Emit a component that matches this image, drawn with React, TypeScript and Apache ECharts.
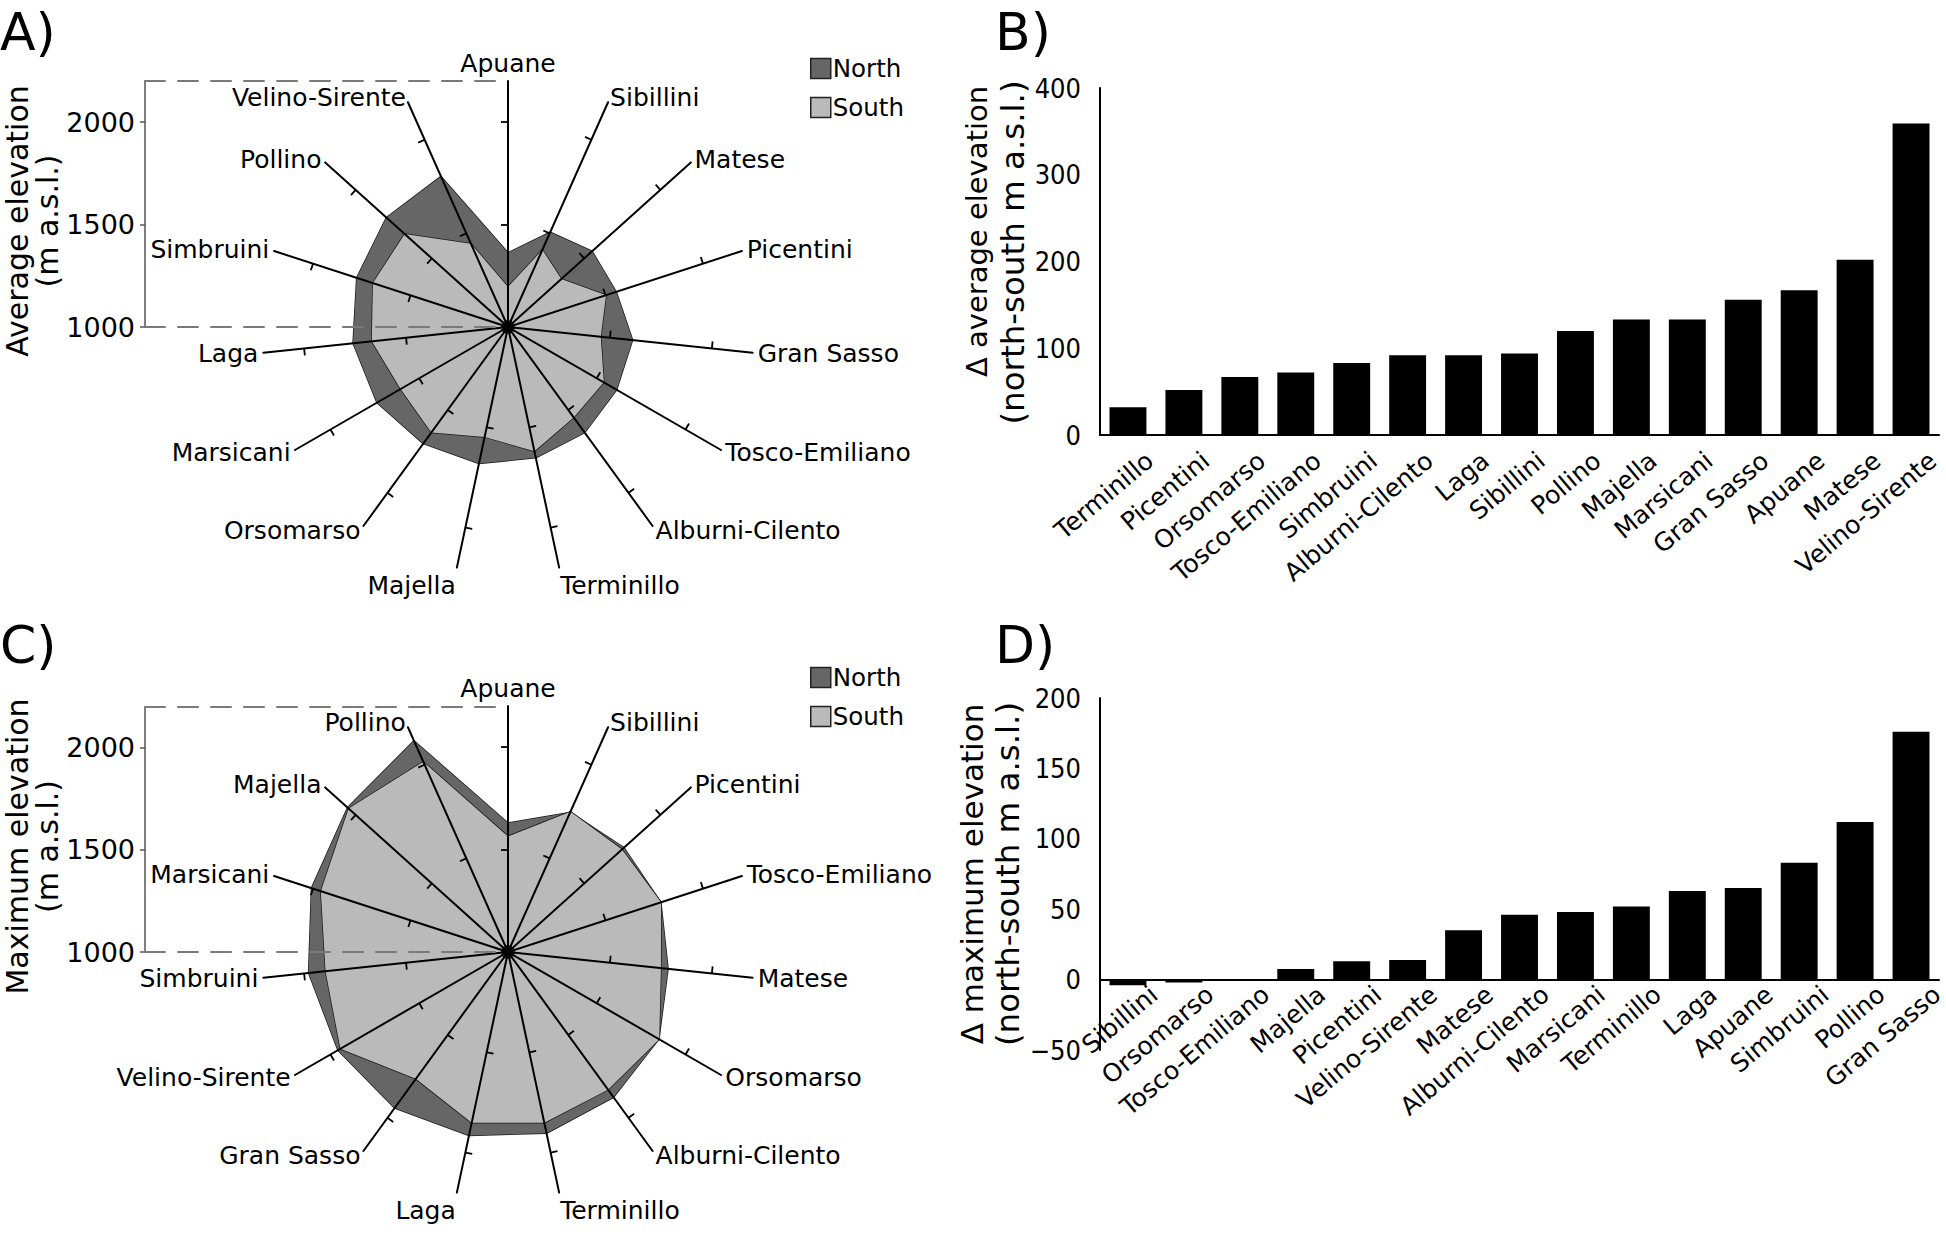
import React, { useEffect, useRef } from 'react';
import * as echarts from 'echarts';

// ---------- Data ----------
// Panel A radar (clockwise from top)
const avgNames = ['Apuane', 'Sibillini', 'Matese', 'Picentini', 'Gran Sasso', 'Tosco-Emiliano', 'Alburni-Cilento', 'Terminillo', 'Majella', 'Orsomarso', 'Marsicani', 'Laga', 'Simbruini', 'Pollino', 'Velino-Sirente'];
const avgNorth = [1362, 1506, 1552, 1555, 1611, 1612, 1637, 1652, 1681, 1703, 1738, 1760, 1776, 1798, 1804];
const avgSouth = [1195, 1412, 1350, 1503, 1455, 1540, 1545, 1620, 1548, 1636, 1605, 1668, 1693, 1678, 1445];

// Panel C radar (clockwise from top)
const maxNames = ['Apuane', 'Sibillini', 'Picentini', 'Tosco-Emiliano', 'Matese', 'Orsomarso', 'Alburni-Cilento', 'Terminillo', 'Laga', 'Gran Sasso', 'Velino-Sirente', 'Simbruini', 'Marsicani', 'Majella', 'Pollino'];
const maxNorth = [1629, 1745, 1761, 1784, 1785, 1850, 1876, 1904, 1915, 1941, 1958, 1978, 2008, 2053, 2128];
const maxSouth = [1564, 1749, 1748, 1785, 1750, 1852, 1830, 1852, 1852, 1765, 1944, 1895, 1960, 2046, 2016];

const radarTicks = [1000, 1500, 2000];
const radarMin = 1000;
const radarMax = 2200;

// Panel B bars
const diffAvgNames = ['Terminillo', 'Picentini', 'Orsomarso', 'Tosco-Emiliano', 'Simbruini', 'Alburni-Cilento', 'Laga', 'Sibillini', 'Pollino', 'Majella', 'Marsicani', 'Gran Sasso', 'Apuane', 'Matese', 'Velino-Sirente'];
const diffAvg = [32, 52, 67, 72, 83, 92, 92, 94, 120, 133, 133, 156, 167, 202, 359];

// Panel D bars
const diffMaxNames = ['Sibillini', 'Orsomarso', 'Tosco-Emiliano', 'Majella', 'Picentini', 'Velino-Sirente', 'Matese', 'Alburni-Cilento', 'Marsicani', 'Terminillo', 'Laga', 'Apuane', 'Simbruini', 'Pollino', 'Gran Sasso'];
const diffMax = [-4, -2, -1, 7.5, 13, 14, 35, 46, 48, 52, 63, 65, 83, 112, 176];

const legendNames = ['North', 'South'];

// ---------- Styling ----------
const FONT = 'DejaVu Sans';
const NARROW = "'Liberation Sans Narrow', 'DejaVu Sans Condensed', 'Liberation Sans', sans-serif";
const DARK = '#666666';
const LIGHT = '#bababa';

// ECharts radar runs counter-clockwise: keep first, reverse the rest
const ccw = <T,>(a: T[]): T[] => [a[0], ...a.slice(1).reverse()];

function mainRadar(center: number[], names: string[]) {
  // the two spokes pointing (almost) straight down carry their name lower
  const lowNames = [names[7], names[8]];
  return {
    center,
    radius: 246,
    startAngle: 90,
    shape: 'polygon',
    splitNumber: 1,
    z: 3,
    silent: true,
    indicator: ccw(names).map((n) => ({ name: n, min: radarMin, max: radarMax })),
    axisNameGap: 5,
    axisName: {
      color: '#000',
      fontSize: 25,
      fontFamily: FONT,
      formatter: (name: string) => (lowNames.indexOf(name) >= 0 ? '{low|' + name + '}' : name),
      rich: { low: { fontSize: 25, fontFamily: FONT, color: '#000', padding: [26, 0, 0, 0] } },
    },
    axisLine: { show: true, lineStyle: { color: '#000', width: 2 } },
    axisTick: { show: false },
    axisLabel: { show: false },
    splitLine: { show: false },
    splitArea: { show: false },
  };
}

function tickRadar(center: number[], names: string[]) {
  return {
    center,
    radius: 205,
    startAngle: 90,
    shape: 'polygon',
    splitNumber: radarTicks.length - 1,
    z: 3,
    silent: true,
    indicator: names.map(() => ({ name: '', min: radarTicks[0], max: radarTicks[radarTicks.length - 1] })),
    axisName: { show: false },
    axisLine: { show: false },
    axisTick: { show: true, length: 7, lineStyle: { color: '#000', width: 1.8 } },
    axisLabel: { show: false },
    splitLine: { show: false },
    splitArea: { show: false },
  };
}

function radarSeries(radarIndex: number, name: string, values: number[], color: string) {
  return {
    type: 'radar',
    radarIndex,
    z: 2,
    silent: true,
    symbol: 'none',
    data: [
      {
        name,
        value: ccw(values),
        itemStyle: { color },
        lineStyle: { color: '#1a1a1a', width: 1.5 },
        areaStyle: { color, opacity: 1 },
      },
    ],
  };
}

function legend(top: number) {
  return {
    data: legendNames,
    orient: 'vertical',
    left: 805,
    top,
    itemWidth: 20,
    itemHeight: 20,
    itemGap: 14,
    icon: 'rect',
    selectedMode: false,
    itemStyle: { borderColor: '#222', borderWidth: 1.5 },
    textStyle: { fontSize: 24.5, fontFamily: FONT, color: '#000', padding: [0, 0, 0, -3] },
  };
}

function dashedX(gridIndex: number, position: string) {
  return {
    gridIndex,
    type: 'value',
    position,
    min: 0,
    max: 1,
    z: 5,
    axisLine: { show: true, onZero: false, lineStyle: { color: '#7a7a7a', width: 2, type: [20, 13] } },
    axisTick: { show: false },
    axisLabel: { show: false },
    splitLine: { show: false },
  };
}

function elevY(gridIndex: number, name: string) {
  return {
    gridIndex,
    type: 'value',
    position: 'left',
    min: radarMin,
    max: radarMax,
    name,
    nameLocation: 'middle',
    nameRotate: 90,
    nameGap: 77,
    nameTextStyle: { fontSize: 30, fontFamily: FONT, color: '#000', lineHeight: 30, padding: [0, 34, 0, 0] },
    axisLine: { show: true, onZero: false, lineStyle: { color: '#555', width: 1.5 } },
    axisTick: { show: true, length: 5, customValues: radarTicks, lineStyle: { color: '#555', width: 1.5 } },
    axisLabel: {
      customValues: radarTicks,
      formatter: (v: number) => String(v),
      fontSize: 27,
      fontFamily: FONT,
      color: '#000',
      margin: 10,
    },
    splitLine: { show: false },
  };
}

function catX(gridIndex: number, data: string[], margin: number, padTop: number) {
  return {
    gridIndex,
    type: 'category',
    data,
    axisLine: { show: true, lineStyle: { color: '#000', width: 2 } },
    axisTick: { show: false },
    axisLabel: {
      interval: 0,
      rotate: 40,
      fontSize: 25,
      fontFamily: FONT,
      color: '#000',
      margin,
      formatter: (v: string) => '{t|' + v + '}',
      rich: { t: { fontSize: 25, fontFamily: FONT, color: '#000', padding: [padTop, 0, 0, 0] } },
    },
    splitLine: { show: false },
  };
}

function diffY(
  gridIndex: number,
  line1: string,
  line2: string,
  min: number,
  max: number,
  interval: number,
  size1: number,
  size2: number,
  pad1: number[],
  pad2: number[],
) {
  return {
    gridIndex,
    type: 'value',
    min,
    max,
    interval,
    name: '{a|' + line1 + '}\n{b|' + line2 + '}',
    nameLocation: 'middle',
    nameRotate: 90,
    nameGap: 66,
    nameTextStyle: {
      fontSize: 30,
      fontFamily: FONT,
      color: '#000',
      lineHeight: 36,
      rich: {
        a: { fontSize: size1, fontFamily: FONT, color: '#000', lineHeight: 36, padding: pad1 },
        b: { fontSize: size2, fontFamily: FONT, color: '#000', lineHeight: 36, padding: pad2 },
      },
    },
    axisLine: { show: true, onZero: false, lineStyle: { color: '#000', width: 2 } },
    axisTick: { show: false },
    axisLabel: {
      formatter: (v: number) => String(v).replace('-', '\u2212'),
      fontSize: 27,
      fontFamily: NARROW,
      color: '#000',
      margin: 19,
    },
    splitLine: { show: false },
  };
}

function panelLabel(text: string, left: number, top: number) {
  return { type: 'text', left, top, style: { text, fontSize: 52, fontFamily: FONT, fill: '#000' } };
}

function buildOption() {
  const cA = [508, 327];
  const cC = [508, 952];
  return {
    animation: false,
    backgroundColor: '#ffffff',
    radar: [mainRadar(cA, avgNames), tickRadar(cA, avgNames), mainRadar(cC, maxNames), tickRadar(cC, maxNames)],
    legend: [legend(51), legend(660)],
    grid: [
      { left: 145, top: 81, width: 363, height: 246, outerBoundsMode: 'none' },
      { left: 145, top: 707, width: 363, height: 245, outerBoundsMode: 'none' },
      { left: 1100, top: 88, width: 839, height: 347, outerBoundsMode: 'none' },
      { left: 1100, top: 698, width: 839, height: 352, outerBoundsMode: 'none' },
    ],
    xAxis: [
      dashedX(0, 'bottom'),
      dashedX(0, 'top'),
      dashedX(1, 'bottom'),
      dashedX(1, 'top'),
      catX(2, diffAvgNames, -4, 68),
      catX(3, diffMaxNames, -90, 81),
    ],
    yAxis: [
      elevY(0, 'Average elevation\n(m a.s.l.)'),
      elevY(1, 'Maximum elevation\n(m a.s.l.)'),
      diffY(2, 'Δ average elevation', '(north-south m a.s.l.)', 0, 400, 100, 29, 32.5, [0, 0, 0, 60], [0, 0, 0, 18]),
      diffY(3, 'Δ maximum elevation', '(north-south m a.s.l.)', -50, 200, 50, 31, 32.5, [0, 0, 0, 0], [0, 0, 0, 0]),
    ],
    series: [
      radarSeries(0, 'North', avgNorth, DARK),
      radarSeries(0, 'South', avgSouth, LIGHT),
      radarSeries(2, 'North', maxNorth, DARK),
      radarSeries(2, 'South', maxSouth, LIGHT),
      { type: 'bar', xAxisIndex: 4, yAxisIndex: 2, data: diffAvg, barWidth: '66%', itemStyle: { color: '#000' }, silent: true },
      { type: 'bar', xAxisIndex: 5, yAxisIndex: 3, data: diffMax, barWidth: '66%', itemStyle: { color: '#000' }, silent: true },
    ],
    graphic: [panelLabel('A)', 0, 6), panelLabel('B)', 995, 6), panelLabel('C)', 0, 619), panelLabel('D)', 995, 619)],
  };
}

export default function App() {
  const ref = useRef<HTMLDivElement>(null);
  useEffect(() => {
    if (!ref.current) return;
    const chart = echarts.init(ref.current, undefined, { renderer: 'svg' });
    chart.setOption(buildOption() as any);
    return () => chart.dispose();
  }, []);
  return (
    <div
      ref={ref}
      style={{ position: 'absolute', left: 0, top: 0, width: 1946, height: 1234, background: '#fff' }}
    />
  );
}
